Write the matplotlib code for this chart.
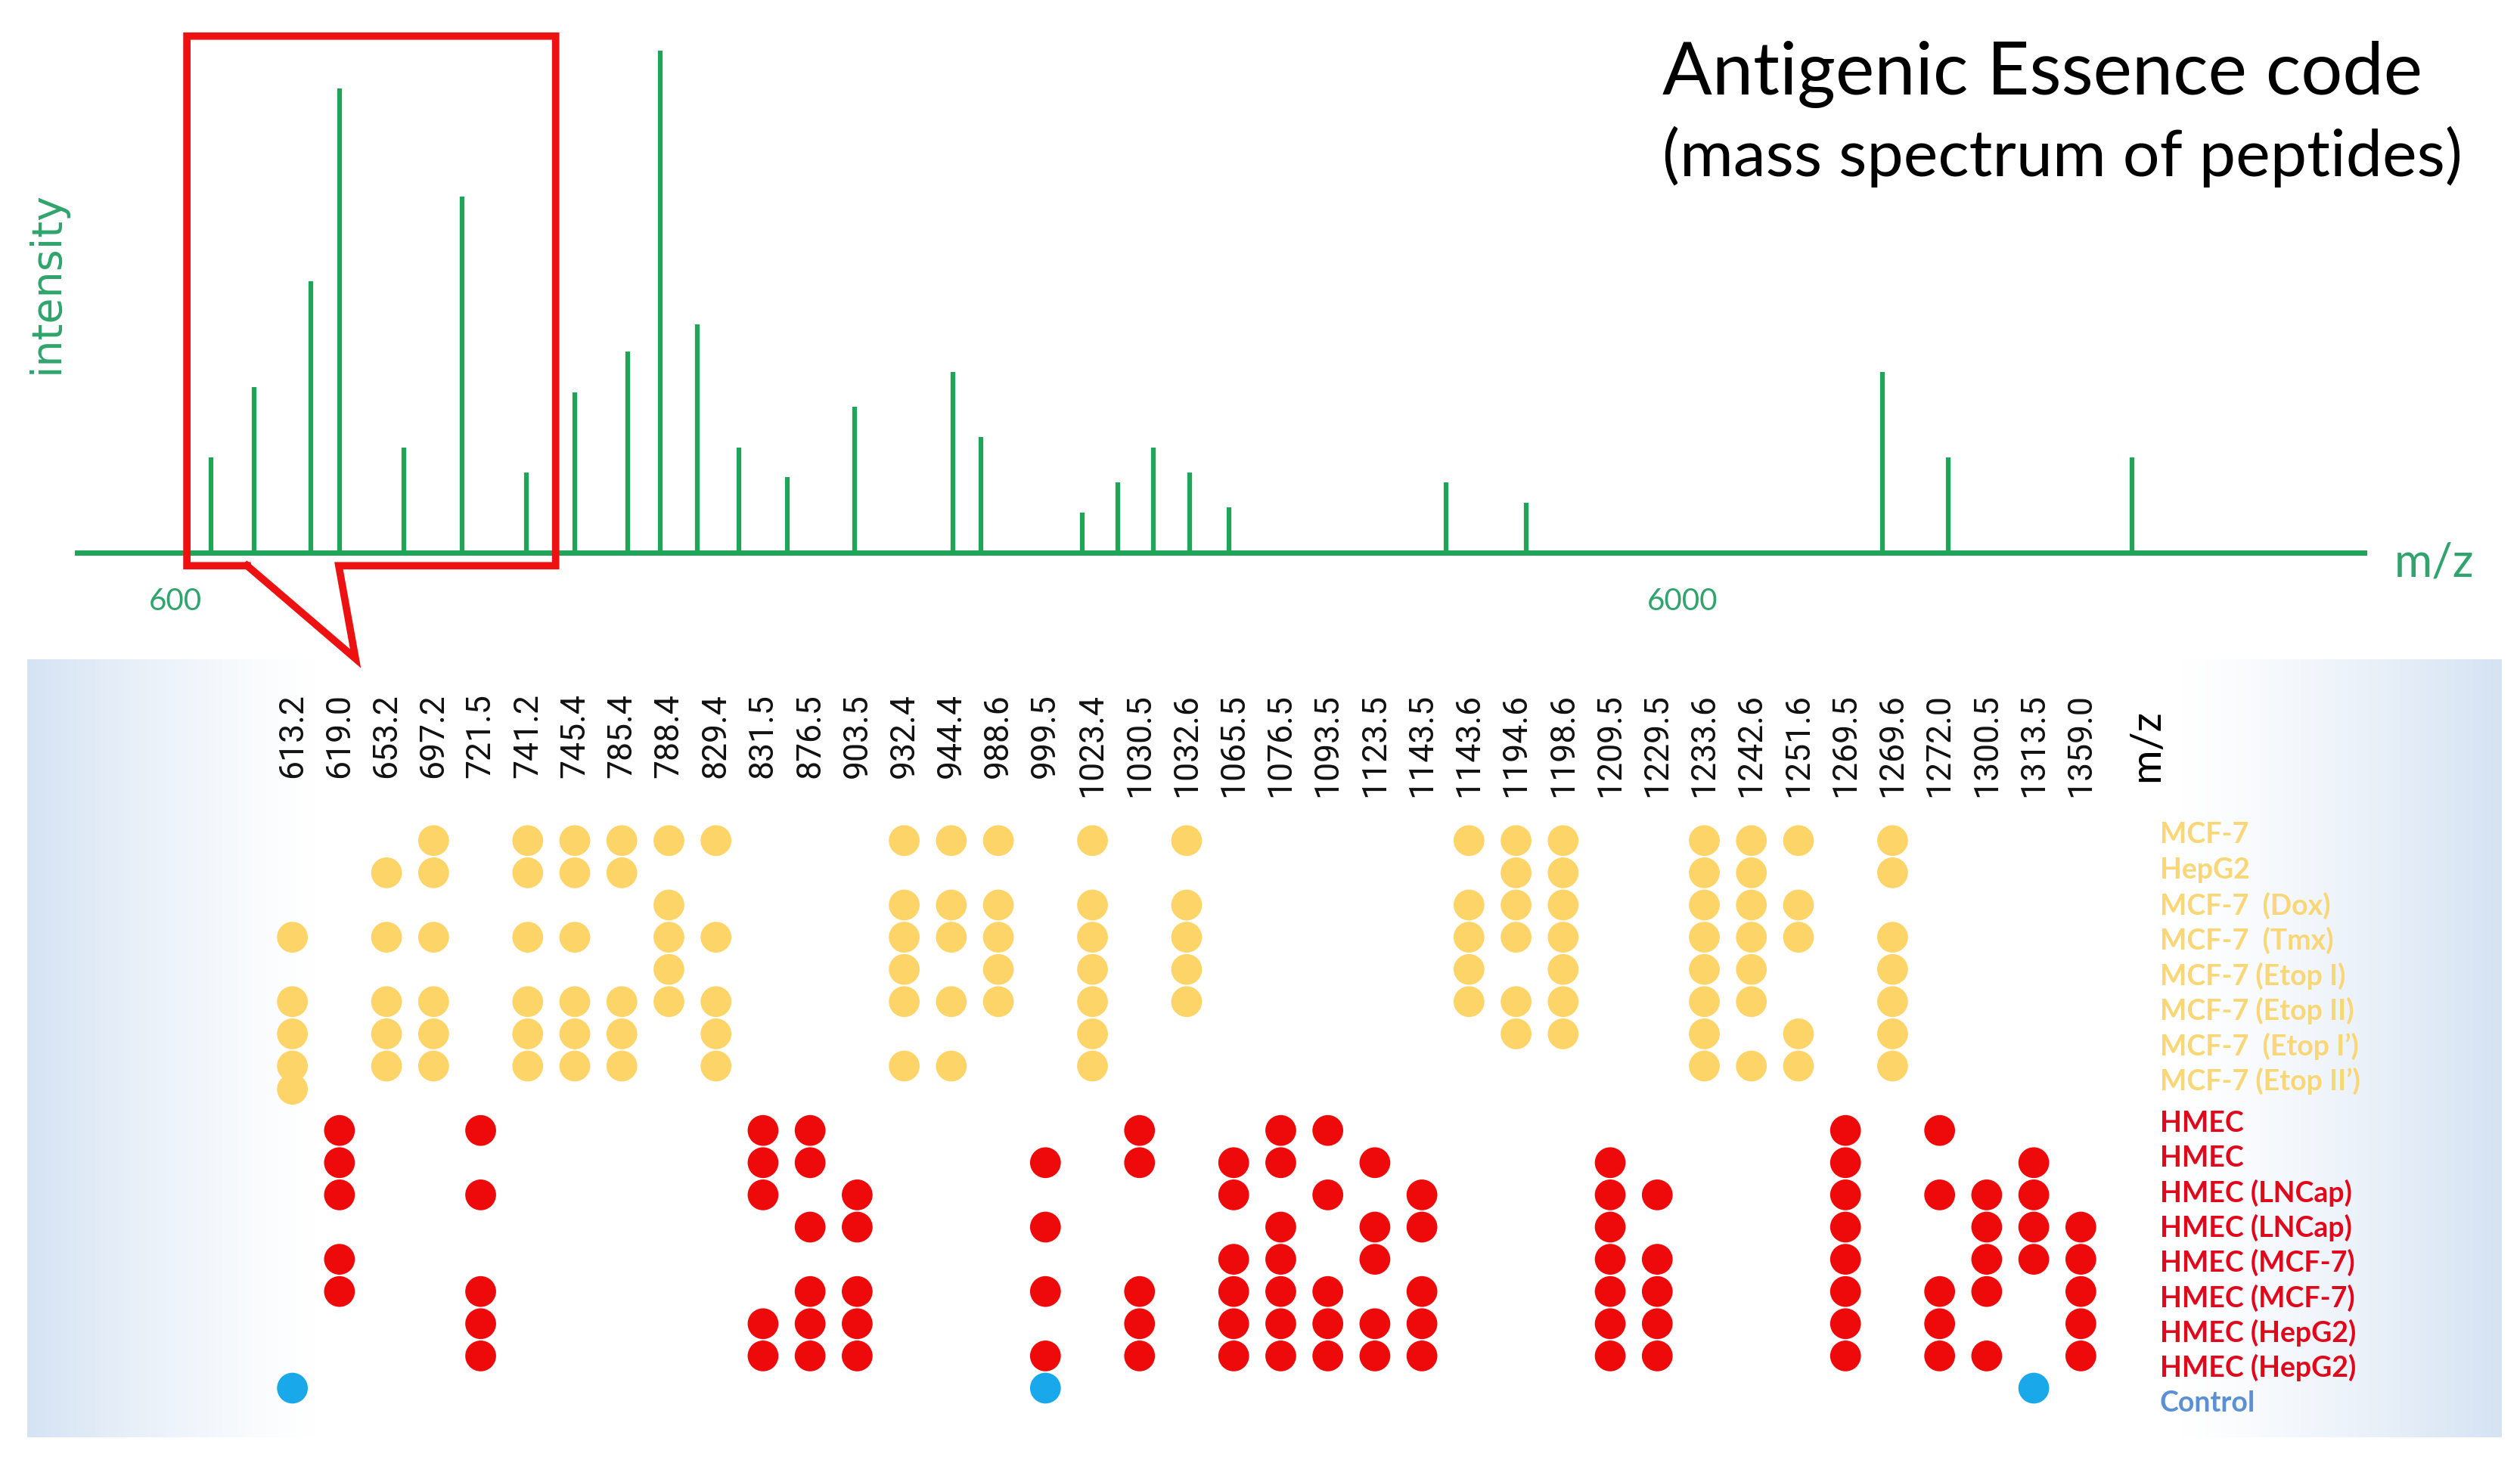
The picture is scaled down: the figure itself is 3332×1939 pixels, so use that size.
import numpy as np
import matplotlib.pyplot as plt
from matplotlib.colors import LinearSegmentedColormap

# mass spectrum (schematic) - peak position (m/z) and relative intensity
peak_mz = [727, 883, 1085, 1189, 1419, 1627, 1858, 2031, 2221, 2337, 2469, 2619, 2792,
           3034, 3386, 3485, 3848, 3975, 4102, 4234, 4373, 5151, 5440, 6715, 6951, 7609]
peak_intensity = [19, 33, 54, 92.5, 21, 71, 16, 32, 40, 100, 45.5, 21, 15,
                  29, 36, 23, 8, 14, 21, 16, 9, 14, 10, 36, 19, 19]
tick_mz = [600, 6000]

# peptide m/z columns of the code table
mz_labels = ["613.2", "619.0", "653.2", "697.2", "721.5", "741.2", "745.4", "785.4",
             "788.4", "829.4", "831.5", "876.5", "903.5", "932.4", "944.4", "988.6",
             "999.5", "1023.4", "1030.5", "1032.6", "1065.5", "1076.5", "1093.5",
             "1123.5", "1143.5", "1143.6", "1194.6", "1198.6", "1209.5", "1229.5",
             "1233.6", "1242.6", "1251.6", "1269.5", "1269.6", "1272.0", "1300.5",
             "1313.5", "1359.0"]

tumor_lines = ["MCF-7", "HepG2", "MCF-7  (Dox)", "MCF-7  (Tmx)", "MCF-7 (Etop I)",
               "MCF-7 (Etop II)", "MCF-7  (Etop I’)", "MCF-7 (Etop II’)"]
hmec_lines = ["HMEC", "HMEC", "HMEC (LNCap)", "HMEC (LNCap)", "HMEC (MCF-7)",
              "HMEC (MCF-7)", "HMEC (HepG2)", "HMEC (HepG2)"]
control_line = "Control"

# which tumor rows (0-7) show each peptide, one list per column
tumor_hits = [
    [3, 5, 6, 7], [], [1, 3, 5, 6, 7], [0, 1, 3, 5, 6, 7], [], [0, 1, 3, 5, 6, 7],
    [0, 1, 3, 5, 6, 7], [0, 1, 5, 6, 7], [0, 2, 3, 4, 5], [0, 3, 5, 6, 7], [], [], [],
    [0, 2, 3, 4, 5, 7], [0, 2, 3, 5, 7], [0, 2, 3, 4, 5], [], [0, 2, 3, 4, 5, 6, 7], [],
    [0, 2, 3, 4, 5], [], [], [], [], [], [0, 2, 3, 4, 5], [0, 1, 2, 3, 5, 6],
    [0, 1, 2, 3, 4, 5, 6], [], [], [0, 1, 2, 3, 4, 5, 6, 7], [0, 1, 2, 3, 4, 5, 7],
    [0, 2, 3, 6, 7], [], [0, 1, 3, 4, 5, 6, 7], [], [], [], [],
]
# which HMEC rows (0-7) show each peptide
hmec_hits = [
    [], [0, 1, 2, 4, 5], [], [], [0, 2, 5, 6, 7], [], [], [], [], [],
    [0, 1, 2, 6, 7], [0, 1, 3, 5, 6, 7], [2, 3, 5, 6, 7], [], [], [], [1, 3, 5, 7], [],
    [0, 1, 5, 6, 7], [], [1, 2, 4, 5, 6, 7], [0, 1, 3, 4, 5, 6, 7], [0, 2, 5, 6, 7],
    [1, 3, 4, 6, 7], [2, 3, 5, 6, 7], [], [], [], [1, 2, 3, 4, 5, 6, 7], [2, 4, 5, 6, 7],
    [], [], [], [0, 1, 2, 3, 4, 5, 6, 7], [], [0, 2, 5, 6, 7], [2, 3, 4, 5, 7],
    [1, 2, 3, 4], [3, 4, 5, 6, 7],
]
control_hits = ["613.2", "999.5", "1313.5"]
tumor_extra = ["613.2"]   # the half-row spot under MCF-7 (Etop II')

GREEN = '#1fa458'
GREEN_TXT = '#2fa46c'
YELLOW = '#fdd468'
YELLOW_TXT = '#f9d676'
RED = '#ee0a0a'
RED_TXT = '#e1081c'
BLUE = '#19a9ea'
BLUE_TXT = '#5b8fd6'

plt.rcParams['font.family'] = ['Lato', 'DejaVu Sans']

W, H = 3332, 1940
fig = plt.figure(figsize=(W / 100, H / 100), dpi=100)


def fx(px):
    return px / W


def fy(py):
    return 1 - py / H


# light blue panel behind the table
ax_bg = fig.add_axes([fx(36), fy(1902), fx(3308 - 36), (1902 - 873) / H])
xs = np.linspace(36, 3308, 1200)
t = np.clip(np.maximum((420 - xs) / 384, (xs - 2880) / 428), 0, 1) ** 1.3
cmap = LinearSegmentedColormap.from_list('panel', ['#ffffff', '#d5e3f3'])
ax_bg.imshow(np.tile(t, (4, 1)), cmap=cmap, aspect='auto', extent=[0, 1, 0, 1],
             vmin=0, vmax=1)
ax_bg.axis('off')

# spectrum
ax_sp = fig.add_axes([fx(102), fy(732), fx(3126 - 102), (732 - 68) / H])
ax_sp.set_xlim(247.8, 8441)
ax_sp.set_ylim(0, 100)
ax_sp.axis('off')
ax_sp.vlines(peak_mz, 0, peak_intensity, color=GREEN, lw=4.5, clip_on=False)
ax_sp.axhline(0, color=GREEN, lw=5, clip_on=False)
for m in tick_mz:
    ax_sp.text(m, -9.6, str(m), ha='center', va='center', fontsize=29,
               color=GREEN_TXT)

# red zoom box with callout tail
box_x = [857, 641, 641, 1962, 1962, 1185, 1245, 857]
box_y = [-2.6, -2.6, 102.9, 102.9, -2.6, -2.6, -21.1, -2.6]
ax_sp.plot(box_x, box_y, color='#ee1111', lw=7, clip_on=False,
           solid_joinstyle='miter')

fig.text(fx(62), fy(373), 'intensity', rotation=90, ha='center', va='center',
         fontsize=40, color=GREEN_TXT, family='DejaVu Sans')
fig.text(fx(3218), fy(745), 'm/z', ha='center', va='center', fontsize=44,
         color=GREEN_TXT)

fig.text(fx(2198), fy(125), 'Antigenic Essence code', ha='left', va='baseline',
         fontsize=70, color='black')
fig.text(fx(2198), fy(233), '(mass spectrum of peptides)', ha='left',
         va='baseline', fontsize=62, color='black')

# code table
ax = fig.add_axes([fx(324.4), fy(1879.6), fx(2875.8 - 324.4), (1879.6 - 878.5) / H])
ax.set_xlim(-1, 40)
ax.set_ylim(18, -5.5)
ax.axis('off')

col = {lab: i for i, lab in enumerate(mz_labels)}
ty_x, ty_y = [], []
for i, rows in enumerate(tumor_hits):
    ty_x += [i] * len(rows)
    ty_y += rows
for lab in tumor_extra:
    ty_x.append(col[lab])
    ty_y.append(7.72)
hm_x, hm_y = [], []
for i, rows in enumerate(hmec_hits):
    hm_x += [i] * len(rows)
    hm_y += [r + 9 for r in rows]

dot = 860
ax.scatter(ty_x, ty_y, s=dot, color=YELLOW, edgecolors='none', clip_on=False)
ax.scatter(hm_x, hm_y, s=dot, color=RED, edgecolors='none', clip_on=False)
ax.scatter([col[c] for c in control_hits], [17] * len(control_hits), s=dot,
           color=BLUE, edgecolors='none', clip_on=False)

for i, lab in enumerate(mz_labels):
    ax.text(i, -4.6, lab, rotation=90, ha='center', va='top', fontsize=32,
            family='Roboto', color='#111111')
ax.text(39.4, -4.1, 'm/z', rotation=90, ha='center', va='top', fontsize=40,
        color='black')

for i, lab in enumerate(tumor_lines):
    ax.text(39.68, -0.2 + 1.093 * i, lab, ha='left', va='center', fontsize=27,
            fontweight='bold', color=YELLOW_TXT)
for i, lab in enumerate(hmec_lines):
    ax.text(39.68, 8.75 + 1.084 * i, lab, ha='left', va='center', fontsize=27,
            fontweight='bold', color=RED_TXT)
ax.text(39.68, 17.45, control_line, ha='left', va='center', fontsize=27,
        fontweight='bold', color=BLUE_TXT)

fig.savefig('out.png', dpi=100)
